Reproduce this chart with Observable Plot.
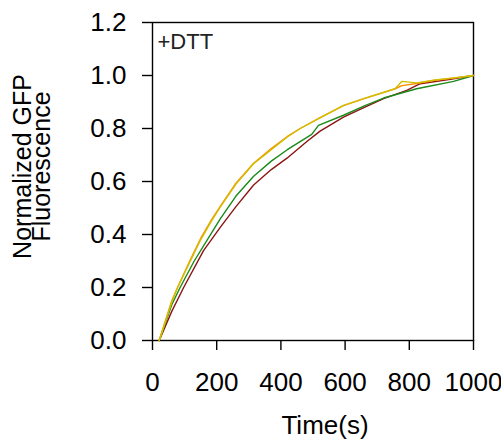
<!DOCTYPE html>
<html><head><meta charset="utf-8">
<script src="https://cdn.jsdelivr.net/npm/d3@7"></script>
<script src="https://cdn.jsdelivr.net/npm/@observablehq/plot@0.6"></script>
<style>html,body{margin:0;padding:0;background:#fff}</style>
</head><body><div id="chart"></div>
<script>
// Series data (time in s, normalized fluorescence)
const seriesNames = ["s1", "s2", "s3", "s4"];
const seriesColors = ["#8b1414", "#1a8a1a", "#ff8c00", "#cfc000"];

const redT = [21, 60, 97, 159, 211, 260, 315, 370, 419, 480, 522, 595, 660, 720, 792, 834, 928, 1000];
const redV = [0, 0.11, 0.20, 0.339, 0.427, 0.505, 0.587, 0.645, 0.688, 0.75, 0.79, 0.843, 0.88, 0.913, 0.944, 0.969, 0.986, 1.0];

const greenT = [21, 60, 86, 130, 185, 211, 260, 315, 370, 420, 496, 517, 595, 660, 720, 823, 938, 1000];
const greenV = [0, 0.135, 0.20, 0.30, 0.408, 0.459, 0.545, 0.62, 0.677, 0.72, 0.778, 0.812, 0.850, 0.885, 0.915, 0.950, 0.978, 1.0];

const orangeT = [21, 60, 78, 120, 150, 185, 211, 260, 315, 370, 419, 460, 522, 595, 657, 756, 777, 823, 880, 938, 1000];
const orangeV = [0, 0.15, 0.20, 0.31, 0.385, 0.458, 0.506, 0.594, 0.669, 0.724, 0.769, 0.80, 0.841, 0.886, 0.912, 0.950, 0.962, 0.970, 0.982, 0.990, 1.0];

const yellowT = [21, 60, 78, 120, 150, 185, 211, 260, 315, 370, 419, 460, 522, 595, 657, 756, 777, 823, 880, 938, 1000];
const yellowV = [0, 0.145, 0.20, 0.305, 0.38, 0.453, 0.503, 0.59, 0.667, 0.72, 0.767, 0.80, 0.840, 0.887, 0.913, 0.950, 0.978, 0.972, 0.983, 0.991, 1.0];

const xTicks = [0, 200, 400, 600, 800, 1000];
const yTicks = [0, 0.2, 0.4, 0.6, 0.8, 1.0, 1.2];
const xTitle = "Time(s)";
const yTitle = "Normalized GFP\nFluorescence";
const panelLabel = "+DTT";

const seriesT = [redT, greenT, orangeT, yellowT];
const seriesV = [redV, greenV, orangeV, yellowV];
const rows = [];
seriesNames.forEach((s, i) => seriesT[i].forEach((t, j) => rows.push({s, t, v: seriesV[i][j]})));

const font = "'Liberation Sans', Arial, sans-serif";
const plot = Plot.plot({
  width: 501, height: 441,
  marginLeft: 152, marginRight: 28, marginTop: 22, marginBottom: 101,
  style: {fontFamily: font, fontSize: "25px", color: "#000", background: "#fff", overflow: "visible"},
  x: {domain: [0, 1000]},
  y: {domain: [0, 1.2]},
  color: {type: "ordinal", domain: seriesNames, range: seriesColors},
  marks: [
    Plot.axisX({ticks: xTicks, tickSize: 10, tickPadding: 22, tickFormat: d3.format("d"), label: null, fontSize: 26, stroke: "#000", strokeWidth: 1.4, strokeOpacity: 1}),
    Plot.axisY({ticks: yTicks, tickSize: 10, tickPadding: 16, tickFormat: d3.format(".1f"), label: null, fontSize: 26, stroke: "#000", strokeWidth: 1.4, strokeOpacity: 1}),
    Plot.frame({stroke: "#000", strokeWidth: 1.4}),
    Plot.line(rows, {x: "t", y: "v", z: "s", stroke: "s", strokeWidth: 1.4}),
    Plot.text([panelLabel], {frameAnchor: "top-left", dx: 5, dy: 11, lineAnchor: "top", textAnchor: "start", fontSize: 22, fill: "#222"}),
    Plot.text([xTitle], {frameAnchor: "bottom", dx: 12, dy: 85, lineAnchor: "middle", fontSize: 26, fill: "#000"}),
    Plot.text([yTitle], {frameAnchor: "left", dx: -118.4, dy: -15, rotate: -90, textAnchor: "middle", lineAnchor: "middle", lineHeight: 0.77, fontSize: 25, fill: "#000"})
  ]
});
document.getElementById("chart").appendChild(plot);
</script>
</body></html>
